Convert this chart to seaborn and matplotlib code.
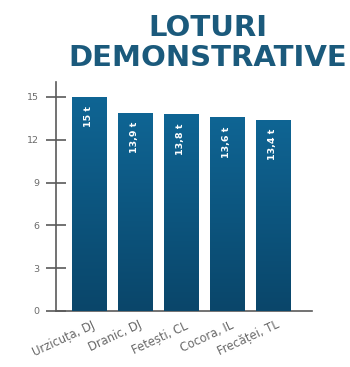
import numpy as np
import pandas as pd
import matplotlib
matplotlib.use("Agg")
import matplotlib.pyplot as plt
import seaborn as sns
from matplotlib.colors import LinearSegmentedColormap
from matplotlib.transforms import ScaledTranslation

# Yields from demonstration plots (t/ha)
locations = ["Urzicuța, DJ", "Dranic, DJ", "Fetești, CL", "Cocora, IL", "Frecăței, TL"]
yields = [15.0, 13.9, 13.8, 13.6, 13.4]
value_labels = ["15 t", "13,9 t", "13,8 t", "13,6 t", "13,4 t"]
y_ticks = [0, 3, 6, 9, 12, 15]

df = pd.DataFrame({"loc": locations, "yield": yields})

sns.set_style("white")
plt.rcParams["font.family"] = ["DejaVu Sans"]

fig = plt.figure(figsize=(3.5, 3.67), dpi=100)
ax = fig.add_axes([0.16, 0.1526, 0.731, 0.624])

sns.barplot(data=df, x="loc", y="yield", color="#0b5783", width=0.74,
            saturation=1, ax=ax, zorder=2)

# vertical gradient fill on each bar
grad_cmap = LinearSegmentedColormap.from_list("bar", ["#0a466a", "#0f6594"])
grad = np.linspace(0, 1, 256).reshape(-1, 1)
for patch in ax.patches:
    x0, y0 = patch.get_x(), patch.get_y()
    w, h = patch.get_width(), patch.get_height()
    im = ax.imshow(grad, cmap=grad_cmap, aspect="auto", origin="lower",
                   extent=[x0, x0 + w, y0, y0 + h], zorder=3)
    im.set_clip_path(patch)

# value labels inside the bars
for i, (v, lab) in enumerate(zip(yields, value_labels)):
    ax.text(i, v - 0.65, lab, rotation=90, ha="center", va="top",
            color="white", fontsize=6.8, fontweight="bold", zorder=4)

ax.set_xlim(-0.717, 4.85)
ax.set_ylim(0, 16.05)
ax.set_yticks(y_ticks)
ax.set_yticklabels([str(t) for t in y_ticks], color="#6a6a6a", fontsize=6.8)
ax.tick_params(axis="y", left=True, direction="inout", length=14, width=1.2,
               color="#5a5a5a", pad=5)
ax.tick_params(axis="x", length=0, pad=4)
ax.set_xticks(range(len(locations)))
ax.set_xticklabels(locations, rotation=25, ha="right", rotation_mode="anchor",
                   color="#6a6a6a", fontsize=8.3)
for lbl in ax.get_xticklabels():
    lbl.set_transform(lbl.get_transform() + ScaledTranslation(0.03, -0.02, fig.dpi_scale_trans))

ax.set_xlabel("")
ax.set_ylabel("")
for side in ["top", "right"]:
    ax.spines[side].set_visible(False)
for side in ["left", "bottom"]:
    ax.spines[side].set_color("#5a5a5a")
    ax.spines[side].set_linewidth(1.2)

fig.text(0.593, 0.963, "LOTURI\nDEMONSTRATIVE", ha="center", va="top",
         fontsize=21, fontweight="bold", color="#1b5a7c", linespacing=1.1)

fig.savefig("out.png", dpi=100)
